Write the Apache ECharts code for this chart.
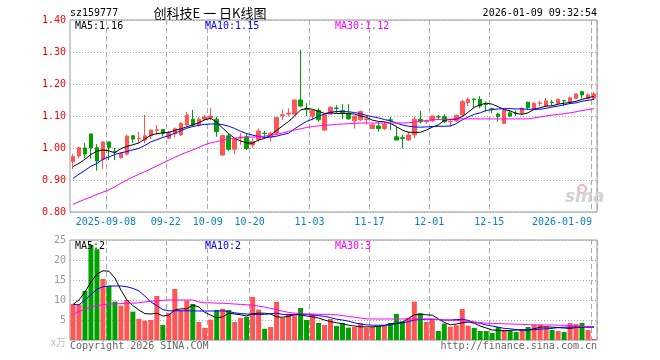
<!DOCTYPE html>
<html><head><meta charset="utf-8">
<script src="https://cdn.jsdelivr.net/npm/echarts@6/dist/echarts.min.js"></script>
<style>html,body{margin:0;padding:0;background:#fff}#c{width:660px;height:360px}</style>
</head><body><div id="c"></div>
<script>
// ---- categories ----
const dates = [
'2025-08-29',
'2025-09-01','2025-09-02','2025-09-03','2025-09-04','2025-09-05',
'2025-09-08','2025-09-09','2025-09-10','2025-09-11','2025-09-12',
'2025-09-15','2025-09-16','2025-09-17','2025-09-18','2025-09-19',
'2025-09-22','2025-09-23','2025-09-24','2025-09-25','2025-09-26',
'2025-09-29','2025-09-30',
'2025-10-09','2025-10-10',
'2025-10-13','2025-10-14','2025-10-15','2025-10-16','2025-10-17',
'2025-10-20','2025-10-21','2025-10-22','2025-10-23','2025-10-24',
'2025-10-27','2025-10-28','2025-10-29','2025-10-30','2025-10-31',
'2025-11-03','2025-11-04','2025-11-05','2025-11-06','2025-11-07',
'2025-11-10','2025-11-11','2025-11-12','2025-11-13','2025-11-14',
'2025-11-17','2025-11-18','2025-11-19','2025-11-20','2025-11-21',
'2025-11-24','2025-11-25','2025-11-26','2025-11-27','2025-11-28',
'2025-12-01','2025-12-02','2025-12-03','2025-12-04','2025-12-05',
'2025-12-08','2025-12-09','2025-12-10','2025-12-11','2025-12-12',
'2025-12-15','2025-12-16','2025-12-17','2025-12-18','2025-12-19',
'2025-12-22','2025-12-23','2025-12-24','2025-12-25','2025-12-26',
'2025-12-29','2025-12-30','2025-12-31',
'2026-01-05','2026-01-06','2026-01-07','2026-01-08','2026-01-09'];

// tick labels shown on the date axis
const tickDates = ['2025-09-08','2025-09-22','2025-10-09','2025-10-20','2025-11-03','2025-11-17','2025-12-01','2025-12-15','2026-01-09'];
const fullLabelDates = ['2025-09-08','2026-01-09'];

// ---- price series (OHLC) ----
const open  = [0.957,0.975,1.000,1.044,1.001,0.965,1.019,0.990,0.970,0.981,1.038,1.029,1.025,1.038,1.055,1.058,1.030,1.044,1.041,1.072,1.090,1.072,1.090,1.094,1.090,0.978,1.038,0.996,1.031,1.035,1.009,1.027,1.046,1.035,1.046,1.101,1.106,1.106,1.150,1.122,1.100,1.117,1.056,1.106,1.125,1.117,1.108,1.085,1.088,1.089,1.061,1.069,1.061,1.088,1.035,1.032,1.025,1.041,1.090,1.082,1.085,1.098,1.098,1.082,1.085,1.103,1.142,1.153,1.152,1.137,1.123,1.106,1.077,1.110,1.109,1.108,1.143,1.121,1.139,1.131,1.143,1.140,1.148,1.143,1.155,1.176,1.155,1.155];
const close = [0.973,1.001,0.981,1.000,0.959,1.019,1.001,0.988,0.983,1.037,1.028,1.031,1.038,1.056,1.057,1.046,1.048,1.060,1.077,1.103,1.072,1.090,1.097,1.100,1.051,1.039,0.996,1.027,1.034,0.999,1.020,1.053,1.045,1.046,1.095,1.104,1.109,1.150,1.131,1.120,1.117,1.088,1.105,1.127,1.124,1.111,1.091,1.100,1.114,1.091,1.072,1.061,1.074,1.087,1.025,1.030,1.041,1.090,1.082,1.084,1.100,1.097,1.082,1.083,1.102,1.145,1.152,1.151,1.131,1.136,1.121,1.098,1.117,1.100,1.108,1.124,1.126,1.140,1.141,1.147,1.142,1.152,1.147,1.157,1.169,1.166,1.166,1.169];
const low   = [0.933,0.968,0.968,0.966,0.929,0.935,0.962,0.962,0.967,0.976,1.015,1.015,1.015,1.027,1.041,1.036,1.028,1.033,1.038,1.068,1.067,1.067,1.087,1.088,1.035,0.975,0.990,0.980,1.010,0.994,1.000,1.020,1.030,1.020,1.041,1.088,1.098,1.103,1.127,1.100,1.087,1.082,1.054,1.103,1.108,1.090,1.088,1.061,1.085,1.073,1.061,1.051,1.056,1.056,1.024,0.999,1.023,1.030,1.077,1.075,1.082,1.088,1.077,1.066,1.082,1.098,1.131,1.127,1.124,1.114,1.108,1.082,1.075,1.096,1.100,1.106,1.119,1.119,1.131,1.130,1.134,1.135,1.131,1.140,1.152,1.155,1.152,1.150];
const high  = [0.982,1.004,1.015,1.044,1.012,1.022,1.019,1.000,0.986,1.041,1.041,1.051,1.103,1.058,1.072,1.058,1.053,1.064,1.080,1.113,1.119,1.097,1.103,1.124,1.098,1.041,1.046,1.030,1.046,1.046,1.030,1.061,1.053,1.051,1.096,1.121,1.124,1.152,1.306,1.140,1.120,1.124,1.108,1.131,1.134,1.137,1.137,1.100,1.117,1.103,1.077,1.082,1.082,1.098,1.067,1.041,1.051,1.098,1.116,1.088,1.101,1.103,1.106,1.090,1.104,1.150,1.158,1.155,1.162,1.145,1.126,1.110,1.121,1.117,1.117,1.127,1.145,1.143,1.147,1.157,1.150,1.155,1.150,1.160,1.171,1.177,1.171,1.176];

// moving averages as drawn
const ma5  = [0.942,0.952,0.965,0.980,0.990,0.994,0.991,0.985,0.998,1.005,1.010,1.016,1.028,1.040,1.045,1.047,1.049,1.055,1.060,1.066,1.072,1.079,1.088,1.093,1.080,1.062,1.045,1.030,1.022,1.016,1.015,1.025,1.030,1.040,1.055,1.069,1.083,1.100,1.119,1.124,1.121,1.115,1.108,1.110,1.108,1.108,1.108,1.106,1.100,1.096,1.087,1.083,1.082,1.077,1.067,1.056,1.049,1.049,1.049,1.056,1.065,1.072,1.087,1.089,1.090,1.098,1.112,1.127,1.135,1.140,1.137,1.129,1.120,1.116,1.108,1.105,1.110,1.121,1.126,1.131,1.132,1.137,1.140,1.142,1.146,1.152,1.157,1.161];
const ma10 = [0.905,0.918,0.930,0.943,0.952,0.965,0.972,0.980,0.985,0.989,0.994,0.999,1.008,1.019,1.026,1.033,1.038,1.046,1.054,1.062,1.067,1.071,1.074,1.075,1.075,1.073,1.068,1.061,1.052,1.045,1.040,1.036,1.033,1.034,1.037,1.042,1.046,1.060,1.072,1.083,1.090,1.099,1.106,1.112,1.114,1.114,1.113,1.111,1.107,1.102,1.098,1.094,1.089,1.085,1.078,1.072,1.068,1.066,1.065,1.066,1.067,1.068,1.068,1.069,1.076,1.088,1.097,1.105,1.110,1.117,1.120,1.122,1.123,1.123,1.122,1.122,1.121,1.121,1.121,1.124,1.128,1.131,1.135,1.139,1.141,1.146,1.149,1.152];
const ma30 = [0.824,0.832,0.840,0.847,0.855,0.862,0.869,0.879,0.890,0.900,0.909,0.918,0.926,0.935,0.944,0.953,0.962,0.971,0.979,0.987,0.994,1.002,1.010,1.016,1.020,1.024,1.028,1.031,1.033,1.034,1.034,1.035,1.037,1.040,1.042,1.047,1.052,1.056,1.060,1.064,1.067,1.069,1.071,1.072,1.074,1.075,1.076,1.077,1.078,1.078,1.078,1.078,1.078,1.078,1.078,1.078,1.079,1.081,1.083,1.086,1.088,1.089,1.090,1.090,1.091,1.091,1.091,1.091,1.091,1.091,1.091,1.091,1.091,1.091,1.091,1.091,1.091,1.094,1.097,1.100,1.103,1.105,1.107,1.110,1.113,1.117,1.120,1.123];

// ---- volume (万) ----
const volume = [9.0,8.9,12.3,23.75,22.7,15.25,13.5,9.6,8.6,10.0,7.1,5.3,4.8,5.0,11.0,3.75,6.7,12.75,7.5,9.8,9.0,4.5,3.0,5.1,7.5,7.8,7.5,4.5,5.5,5.8,10.75,7.6,2.8,3.25,9.5,5.6,6.5,6.3,8.0,5.0,6.4,4.25,3.75,5.25,3.5,4.2,3.1,3.25,4.2,3.1,3.3,3.5,3.5,4.25,6.5,4.7,5.5,9.6,6.75,4.5,5.25,2.25,4.1,3.3,3.7,7.75,3.6,3.0,2.25,2.25,1.75,3.25,2.5,2.25,2.0,2.7,3.25,3.75,3.8,3.3,2.5,2.25,2.0,4.25,4.0,4.25,2.5,0.25];
const vma5  = [8.9,10.0,12.0,14.5,16.5,17.3,17.2,15.5,12.5,10.0,8.6,7.5,6.6,6.5,6.7,6.0,6.2,7.5,7.8,7.8,8.7,8.3,6.9,6.2,5.5,5.8,6.7,6.5,6.3,6.0,6.6,6.7,6.7,6.5,5.8,5.7,5.9,6.4,6.3,6.0,5.8,5.5,5.0,4.6,4.3,4.1,3.7,3.5,3.3,3.3,3.3,3.4,3.6,4.0,4.2,4.4,5.4,6.3,6.4,6.3,6.2,5.3,4.4,3.8,4.0,4.3,4.5,4.2,3.5,3.0,2.5,2.4,2.3,2.4,2.5,2.5,2.5,2.8,3.2,3.3,3.2,3.1,3.0,2.9,3.1,3.3,3.3,3.3];
const vma10 = [8.9,8.8,10.0,11.3,12.7,13.3,13.5,13.5,13.5,13.3,12.9,12.3,11.0,9.5,8.6,7.6,7.3,7.3,7.3,7.3,7.3,7.25,7.25,7.25,7.25,7.3,7.1,6.8,6.6,6.5,6.4,6.4,6.4,6.6,6.7,6.4,6.3,6.4,6.5,6.4,6.25,6.1,5.9,5.6,5.2,5.0,4.7,4.3,4.0,3.8,3.7,3.7,3.7,3.8,4.1,4.3,4.6,5.0,5.1,5.2,5.2,5.1,5.0,5.0,5.1,5.2,4.9,4.4,4.2,3.75,3.5,3.2,2.9,2.8,2.6,2.5,2.5,2.6,2.7,2.8,2.9,3.1,3.2,3.2,3.3,3.3,3.2,3.2];
const vma30 = [6.4,7.1,7.7,8.3,8.6,8.8,9.0,9.0,9.1,9.2,9.2,9.3,9.5,9.7,9.8,9.9,10.0,10.0,10.0,10.0,10.0,9.5,9.3,9.3,9.2,9.2,9.1,9.0,8.9,8.8,8.7,8.5,8.2,7.9,7.6,7.2,6.9,6.7,6.6,6.5,6.5,6.4,6.4,6.4,6.3,6.1,5.9,5.7,5.5,5.3,5.25,5.25,5.25,5.25,5.25,5.25,5.25,5.25,5.25,5.25,5.2,5.1,5.0,4.95,4.9,4.8,4.65,4.5,4.35,4.2,4.15,4.1,4.05,4.0,3.95,3.9,3.85,3.8,3.75,3.75,3.75,3.7,3.7,3.6,3.5,3.4,3.35,3.3];

// ---- texts ----
const codeText = 'sz159777';
const titleText = '创科技E 一 日K线图';
const timeText = '2026-01-09 09:32:54';
const priceLegend = ['MA5:1.16','MA10:1.15','MA30:1.12'];
const volLegend = ['MA5:2','MA10:2','MA30:3'];

const RED = '#ff5555', GREEN = '#00a000';
const MONO = 'DejaVu Sans Mono';
const kData = dates.map((d, i) => [open[i], close[i], low[i], high[i]]);
const volData = volume.map((v, i) => ({value: v, itemStyle: {color: close[i] >= open[i] ? RED : GREEN}}));

const showTick = (idx, val) => tickDates.indexOf(val) >= 0;
function dateLabel(val) {
  if (val === fullLabelDates[1]) return '{l|' + val + '}';
  if (val === fullLabelDates[0]) return '{m|' + val + '}';
  return '{m|' + val.slice(5) + '}';
}
const vSplit = {show: true, interval: showTick, lineStyle: {color: '#aaa', type: [5, 3], width: 1}};

function txt(x, y, text, color, align, font) {
  return {type: 'text', x: x, y: y, silent: true, z: 100,
    style: {text: text, fill: color, font: font || ('10px ' + MONO),
      textAlign: align || 'left', align: align || 'left', textVerticalAlign: 'middle', verticalAlign: 'middle'}};
}

const chart = echarts.init(document.getElementById('c'), null, {renderer: 'canvas'});
chart.setOption({
  animation: false,
  backgroundColor: '#fff',
  grid: [
    {left: 70, top: 20, width: 527, height: 192, show: true, borderColor: '#999', borderWidth: 1},
    {left: 70, top: 240, width: 527, height: 100, show: true, borderColor: '#999', borderWidth: 1}
  ],
  xAxis: [
    {type: 'category', gridIndex: 0, data: dates, boundaryGap: true,
      axisLine: {show: false}, axisTick: {show: false},
      axisLabel: {show: true, interval: showTick, formatter: dateLabel, margin: 5,
        rich: {m: {color: '#0a7fd0', fontFamily: MONO, fontSize: 10, padding: [0, 6, 0, 0]},
               l: {color: '#0a7fd0', fontFamily: MONO, fontSize: 10, padding: [0, 64, 0, 0]}}},
      splitLine: vSplit},
    {type: 'category', gridIndex: 1, data: dates, boundaryGap: true,
      axisLine: {show: false}, axisTick: {show: false}, axisLabel: {show: false},
      splitLine: vSplit}
  ],
  yAxis: [
    {type: 'value', gridIndex: 0, min: 0.8, max: 1.4, interval: 0.1,
      axisLine: {show: false}, axisTick: {show: false},
      axisLabel: {color: '#ff0000', fontFamily: MONO, fontSize: 10, margin: 4, formatter: v => v.toFixed(2)},
      splitLine: {show: true, lineStyle: {color: '#aaa', type: [1, 2], width: 1}}},
    {type: 'value', gridIndex: 1, min: 0, max: 25, interval: 5,
      axisLine: {show: false}, axisTick: {show: false},
      axisLabel: {margin: 4, formatter: v => v === 0 ? '{u|x万}' : '{n|' + v + '}',
        rich: {n: {color: '#999', fontFamily: MONO, fontSize: 10},
               u: {color: '#bbb', fontFamily: 'Noto Sans CJK SC', fontSize: 10, padding: [4, 0, 0, 0]}}},
      splitLine: {show: true, lineStyle: {color: '#aaa', type: [1, 2], width: 1}}}
  ],
  series: [
    {type: 'candlestick', xAxisIndex: 0, yAxisIndex: 0, data: kData, barWidth: 4,
      itemStyle: {color: RED, color0: GREEN, borderColor: RED, borderColor0: GREEN, borderWidth: 1}, z: 2},
    {type: 'line', xAxisIndex: 0, yAxisIndex: 0, data: ma5, showSymbol: false, symbol: 'none',
      lineStyle: {color: '#000', width: 1}, z: 3},
    {type: 'line', xAxisIndex: 0, yAxisIndex: 0, data: ma10, showSymbol: false, symbol: 'none',
      lineStyle: {color: '#0000ff', width: 1}, z: 3},
    {type: 'line', xAxisIndex: 0, yAxisIndex: 0, data: ma30, showSymbol: false, symbol: 'none',
      lineStyle: {color: '#ff00ff', width: 1}, z: 3},
    {type: 'bar', xAxisIndex: 1, yAxisIndex: 1, data: volData, barWidth: 5, z: 2},
    {type: 'line', xAxisIndex: 1, yAxisIndex: 1, data: vma5, showSymbol: false, symbol: 'none',
      lineStyle: {color: '#000', width: 1}, z: 3},
    {type: 'line', xAxisIndex: 1, yAxisIndex: 1, data: vma10, showSymbol: false, symbol: 'none',
      lineStyle: {color: '#0000ff', width: 1}, z: 3},
    {type: 'line', xAxisIndex: 1, yAxisIndex: 1, data: vma30, showSymbol: false, symbol: 'none',
      lineStyle: {color: '#ff00ff', width: 1}, z: 3}
  ],
  graphic: [
    txt(70, 13, codeText, '#000'),
    txt(210, 13, titleText, '#000', 'center', '13px "Noto Sans CJK SC"'),
    txt(597, 13, timeText, '#000', 'right'),
    txt(75, 26, priceLegend[0], '#000'),
    txt(205, 26, priceLegend[1], '#0000ff'),
    txt(335, 26, priceLegend[2], '#ff00ff'),
    txt(75, 246, volLegend[0], '#000'),
    txt(205, 246, volLegend[1], '#0000ff'),
    txt(335, 246, volLegend[2], '#ff00ff'),
    txt(70, 346, 'Copyright 2026 SINA.COM', '#666'),
    txt(597, 346, 'http://finance.sina.com.cn', '#666', 'right'),
    {type: 'circle', shape: {cx: 582, cy: 189, r: 4}, silent: true, z: 90,
      style: {fill: 'none', stroke: '#f3b4b4', lineWidth: 2}},
    txt(565, 198, 'sina', '#d2d2d2', 'left', 'italic bold 17px "DejaVu Sans"')
  ]
});
</script>
</body></html>
